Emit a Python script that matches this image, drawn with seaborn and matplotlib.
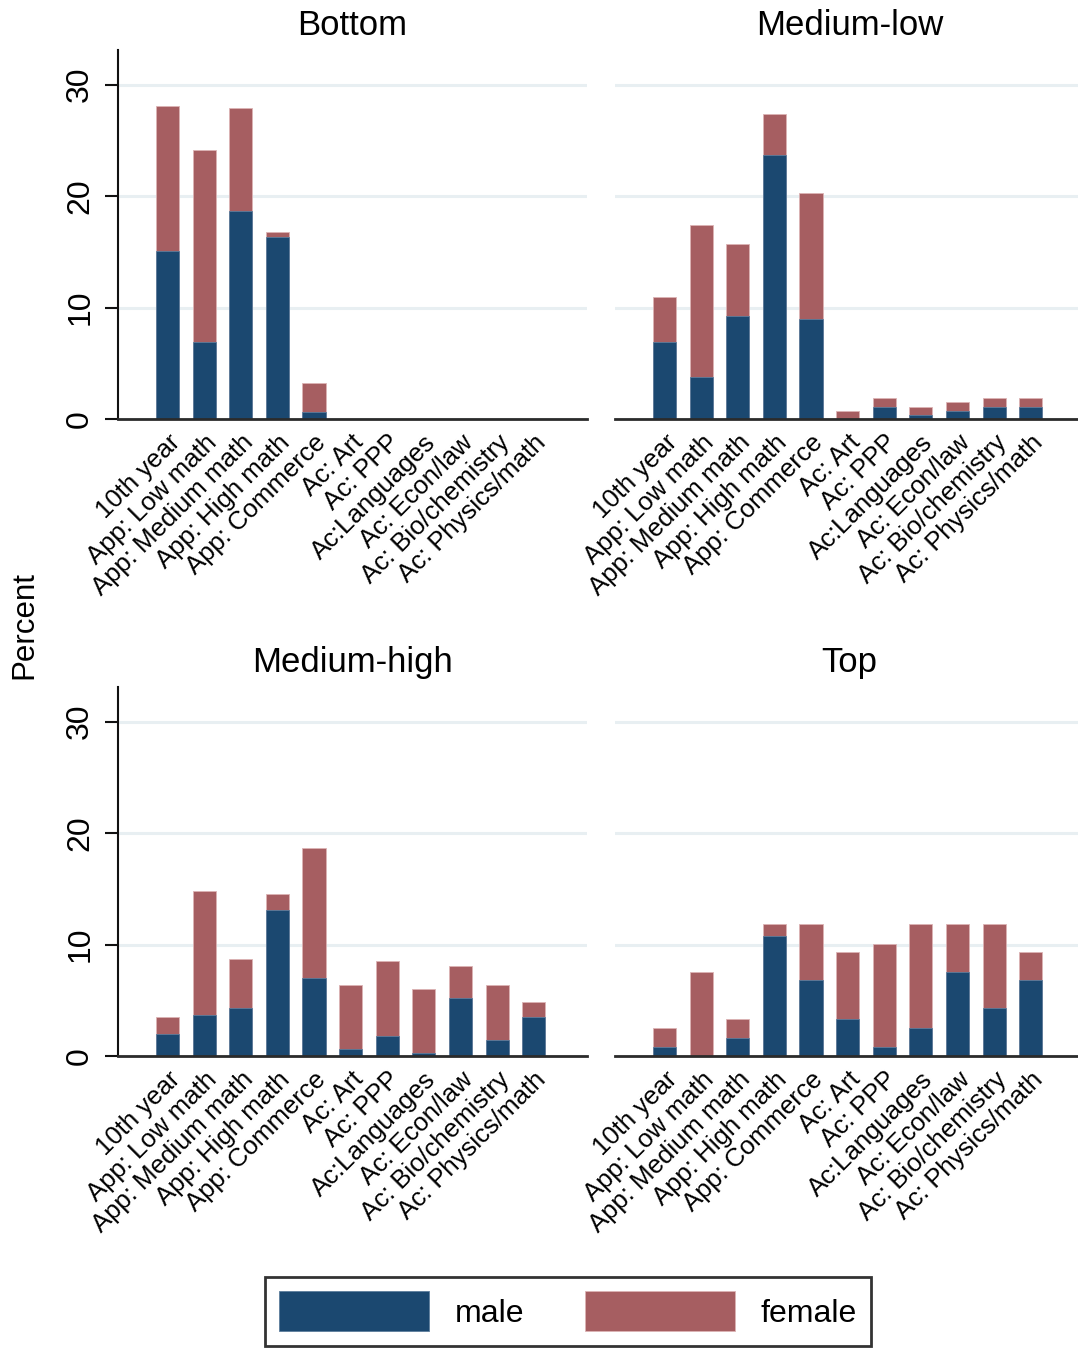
import numpy as np
import pandas as pd
import matplotlib
matplotlib.use("Agg")
import matplotlib.pyplot as plt
from matplotlib.patches import Patch
import seaborn as sns

# ---------------- data ----------------
categories = ["10th year", "App: Low math", "App: Medium math", "App: High math",
              "App: Commerce", "Ac: Art", "Ac: PPP", "Ac:Languages", "Ac: Econ/law",
              "Ac: Bio/chemistry", "Ac: Physics/math"]
panels = ["Bottom", "Medium-low", "Medium-high", "Top"]

male_bottom = [15.1, 6.9, 18.7, 16.3, 0.6, 0.0, 0.0, 0.0, 0.0, 0.0, 0.0]
female_bottom = [13.0, 17.2, 9.2, 0.5, 2.6, 0.0, 0.0, 0.0, 0.0, 0.0, 0.0]

male_medlow = [6.9, 3.8, 9.2, 23.7, 9.0, 0.0, 1.1, 0.4, 0.7, 1.1, 1.1]
female_medlow = [4.0, 13.6, 6.5, 3.7, 11.3, 0.7, 0.8, 0.7, 0.8, 0.8, 0.8]

male_medhigh = [2.0, 3.7, 4.3, 13.1, 7.0, 0.6, 1.8, 0.25, 5.2, 1.4, 3.5]
female_medhigh = [1.5, 11.1, 4.4, 1.4, 11.7, 5.8, 6.7, 5.75, 2.9, 5.0, 1.3]

male_top = [0.8, 0.0, 1.6, 10.8, 6.8, 3.3, 0.8, 2.5, 7.55, 4.3, 6.8]
female_top = [1.7, 7.55, 1.7, 1.0, 5.0, 6.0, 9.25, 9.3, 4.25, 7.5, 2.5]

male_series = [male_bottom, male_medlow, male_medhigh, male_top]
female_series = [female_bottom, female_medlow, female_medhigh, female_top]

yticks = [0, 10, 20, 30]

# ---------------- style ----------------
sns.set_style("white")
plt.rcParams["font.family"] = ["Liberation Sans", "DejaVu Sans"]
plt.rcParams["text.color"] = "black"
plt.rcParams["axes.labelcolor"] = "black"
plt.rcParams["xtick.color"] = "black"
plt.rcParams["ytick.color"] = "black"

MALE_C = "#1b4870"
FEMALE_C = "#a65e61"
GRID_C = "#e8eff2"

fig = plt.figure(figsize=(10.78, 13.51), dpi=100)

W, H = 1078, 1351
ax_w = (587 - 118) / W
ax_h = 369 / H
positions = [
    (118 / W, (H - 419) / H),
    (615 / W, (H - 419) / H),
    (118 / W, (H - 1056) / H),
    (615 / W, (H - 1056) / H),
]

for i, (name, m, f) in enumerate(zip(panels, male_series, female_series)):
    left, bottom = positions[i]
    ax = fig.add_axes([left, bottom, ax_w, ax_h])
    df = pd.DataFrame({"category": categories,
                       "male": m,
                       "total": np.array(m) + np.array(f)})
    sns.barplot(data=df, x="category", y="total", order=categories, color=FEMALE_C,
                saturation=1, width=0.63, ax=ax, edgecolor="#dcb3b4", linewidth=0.6)
    sns.barplot(data=df, x="category", y="male", order=categories, color=MALE_C,
                saturation=1, width=0.63, ax=ax, edgecolor="#5d7d9c", linewidth=0.6)

    ax.set_xlim(-1.35, 10.45 + 1.0)
    ax.set_ylim(0, 33.1)
    ax.set_yticks(yticks)
    ax.set_yticklabels([str(t) for t in yticks])
    ax.yaxis.grid(True, color=GRID_C, linewidth=2.2)
    ax.xaxis.grid(False)
    ax.set_axisbelow(True)
    ax.set_xlabel("")
    ax.set_ylabel("")
    ax.set_title(name, fontsize=25, pad=11, color="black")

    ax.set_xticks(range(len(categories)))
    ax.set_xticklabels(categories, rotation=45, ha="right", rotation_mode="anchor",
                       fontsize=18.5, color="black")
    ax.tick_params(axis="x", length=0, pad=8)

    for s in ["top", "right"]:
        ax.spines[s].set_visible(False)
    ax.spines["bottom"].set_color("#2b2b2b")
    ax.spines["bottom"].set_linewidth(2.0)

    if i % 2 == 0:
        ax.spines["left"].set_visible(True)
        ax.spines["left"].set_color("#111111")
        ax.spines["left"].set_linewidth(1.5)
        ax.tick_params(axis="y", left=True, length=9.4, width=1.5, color="#111111",
                       labelsize=23, labelrotation=90, pad=7)
        for lab in ax.get_yticklabels():
            lab.set_va("center")
            lab.set_color("black")
    else:
        ax.spines["left"].set_visible(False)
        ax.tick_params(axis="y", left=False, labelleft=False)

fig.text(24 / W, (H - 625) / H, "Percent", rotation=90, ha="center", va="center",
         fontsize=22.5, color="black")

handles = [Patch(facecolor=MALE_C, edgecolor="#5d7d9c", linewidth=0.6, label="male"),
           Patch(facecolor=FEMALE_C, edgecolor="#dcb3b4", linewidth=0.6, label="female")]
leg = fig.legend(handles=handles, loc="upper center",
                 bbox_to_anchor=(568 / W, (H - 1277) / H), ncol=2, fontsize=23,
                 frameon=True, fancybox=False, handlelength=4.7, handleheight=1.55,
                 handletextpad=0.8, columnspacing=1.9, borderpad=0.45,
                 borderaxespad=0)
leg.get_frame().set_edgecolor("black")
leg.get_frame().set_linewidth(2)
for t in leg.get_texts():
    t.set_color("black")

fig.savefig("out.png", dpi=100)
